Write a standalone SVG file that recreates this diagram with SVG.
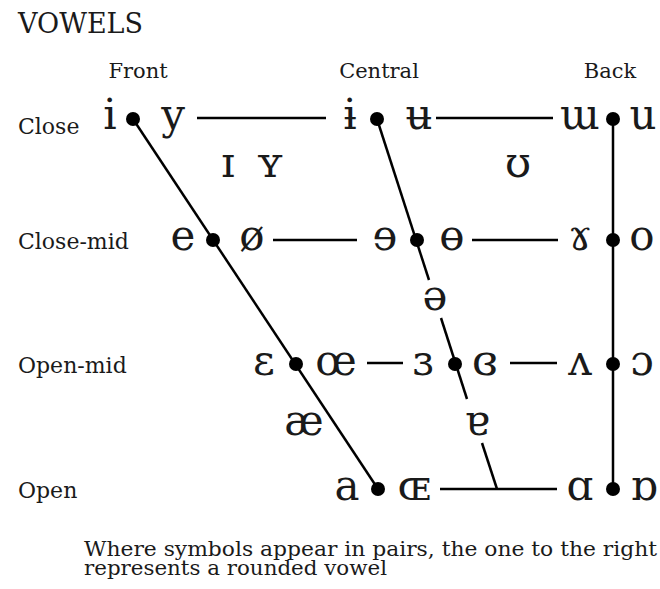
<svg xmlns="http://www.w3.org/2000/svg" width="660" height="589" viewBox="0 0 660 589">
<style>
text{font-family:"DejaVu Serif","Liberation Serif",serif;fill:#1a1a1a}
.title{font-size:27px}
.hdr{font-size:21px;text-anchor:middle}
.lbl{font-size:22px}
.sym{font-size:42px;text-anchor:middle}
.cap{font-size:20px}
.dot{fill:#000}
.ln{stroke:#000;stroke-width:2.5;fill:none}
</style>
<rect width="660" height="589" fill="#fff"/>
<text class="title" x="18" y="33">VOWELS</text>
<g id="headers">
<text class="hdr" x="138" y="78">Front</text>
<text class="hdr" x="379" y="78">Central</text>
<text class="hdr" x="610" y="78">Back</text>
</g>
<g id="row-labels">
<text class="lbl" x="18" y="134">Close</text>
<text class="lbl" x="18" y="249">Close-mid</text>
<text class="lbl" x="18" y="373">Open-mid</text>
<text class="lbl" x="18" y="498">Open</text>
</g>
<g id="connectors">
<line class="ln" x1="133" y1="119" x2="378" y2="489"/>
<line class="ln" x1="377" y1="119" x2="429" y2="280"/>
<line class="ln" x1="441" y1="318" x2="467" y2="399"/>
<line class="ln" x1="482" y1="443" x2="497" y2="489"/>
<line class="ln" x1="613" y1="119" x2="613" y2="489"/>
<line class="ln" x1="197" y1="118" x2="326" y2="118"/>
<line class="ln" x1="436" y1="118" x2="553" y2="118"/>
<line class="ln" x1="273" y1="240" x2="357" y2="240"/>
<line class="ln" x1="472" y1="240" x2="558" y2="240"/>
<line class="ln" x1="367" y1="363" x2="403" y2="363"/>
<line class="ln" x1="510" y1="363" x2="557" y2="363"/>
<line class="ln" x1="440" y1="489" x2="557" y2="489"/>
</g>
<g id="close-front"><text class="sym" x="110" y="129">i</text><circle class="dot" cx="133" cy="119" r="7"/><text class="sym" x="173" y="129">y</text></g>
<g id="close-central"><text class="sym" x="350" y="129">ɨ</text><circle class="dot" cx="377" cy="119" r="7"/><text class="sym" x="419" y="129">ʉ</text></g>
<g id="close-back"><text class="sym" x="580" y="129">ɯ</text><circle class="dot" cx="613" cy="119" r="7"/><text class="sym" x="643" y="129">u</text></g>
<g id="near-close-front"><text class="sym" x="228" y="177">ɪ</text><text class="sym" x="270" y="177">ʏ</text></g>
<g id="near-close-back"><text class="sym" x="518" y="177">ʊ</text></g>
<g id="close-mid-front"><text class="sym" x="183" y="250">e</text><circle class="dot" cx="213" cy="240" r="7"/><text class="sym" x="252" y="250">ø</text></g>
<g id="close-mid-central"><text class="sym" x="385" y="250">ɘ</text><circle class="dot" cx="417" cy="240" r="7"/><text class="sym" x="452" y="250">ɵ</text></g>
<g id="close-mid-back"><text class="sym" x="580" y="250">ɤ</text><circle class="dot" cx="613" cy="240" r="7"/><text class="sym" x="642" y="250">o</text></g>
<g id="mid-central"><text class="sym" x="435" y="310">ə</text></g>
<g id="open-mid-front"><text class="sym" x="264" y="375">ɛ</text><circle class="dot" cx="296" cy="364" r="7"/><text class="sym" x="336" y="375">œ</text></g>
<g id="open-mid-central"><text class="sym" x="423" y="375">ɜ</text><circle class="dot" cx="455" cy="364" r="7"/><text class="sym" x="485" y="375">ɞ</text></g>
<g id="open-mid-back"><text class="sym" x="580" y="375">ʌ</text><circle class="dot" cx="613" cy="364" r="7"/><text class="sym" x="642" y="375">ɔ</text></g>
<g id="near-open-front"><text class="sym" x="304" y="435">æ</text></g>
<g id="near-open-central"><text class="sym" x="477" y="435">ɐ</text></g>
<g id="open-front"><text class="sym" x="347" y="500">a</text><circle class="dot" cx="378" cy="489" r="7"/><text class="sym" x="414" y="500">ɶ</text></g>
<g id="open-back"><text class="sym" x="580" y="500">ɑ</text><circle class="dot" cx="613" cy="489" r="7"/><text class="sym" x="644" y="500">ɒ</text></g>
<g id="caption">
<text class="cap" x="84" y="556" textLength="573" lengthAdjust="spacingAndGlyphs">Where symbols appear in pairs, the one to the right</text>
<text class="cap" x="84" y="575" textLength="303" lengthAdjust="spacingAndGlyphs">represents a rounded vowel</text>
</g>
</svg>
